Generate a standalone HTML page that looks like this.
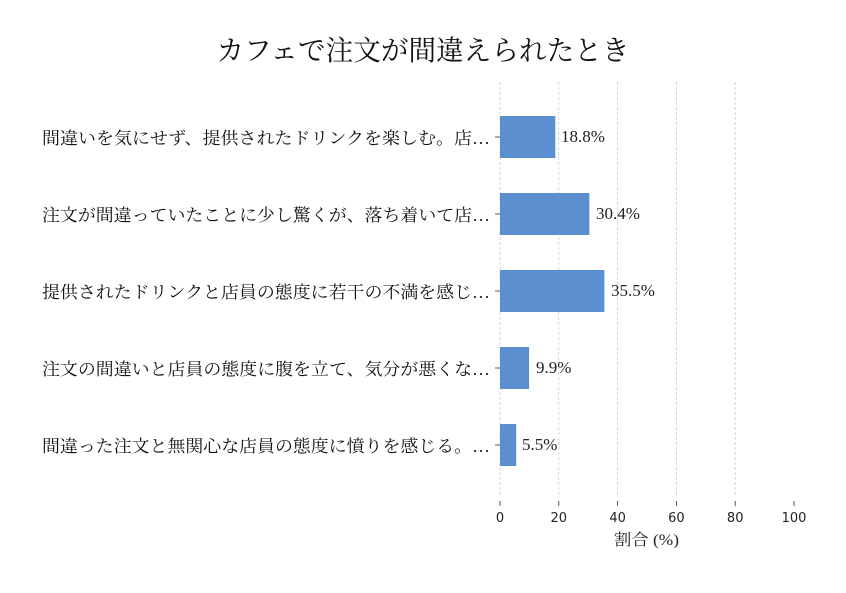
<!DOCTYPE html>
<html><head><meta charset="utf-8"><style>
body{margin:0;background:#fff;}
</style></head><body>
<svg width="846" height="588" xmlns="http://www.w3.org/2000/svg">
<rect width="846" height="588" fill="#fff"/>
<text x="423" y="60" text-anchor="middle" font-family="'Liberation Serif','Noto Serif CJK SC',serif" font-size="28" fill="#111" textLength="413" lengthAdjust="spacingAndGlyphs">カフェで注文が間違えられたとき</text>
<g stroke="#ccc" stroke-width="0.8" stroke-dasharray="3,2">
<line x1="500" y1="82" x2="500" y2="495"/>
<line x1="558.8" y1="82" x2="558.8" y2="495"/>
<line x1="617.6" y1="82" x2="617.6" y2="495"/>
<line x1="676.4" y1="82" x2="676.4" y2="495"/>
<line x1="735.2" y1="82" x2="735.2" y2="495"/>
</g>
<g fill="#5b8fd0">
<rect x="500" y="116" width="55.3" height="42"/>
<rect x="500" y="193" width="89.4" height="42"/>
<rect x="500" y="270" width="104.4" height="42"/>
<rect x="500" y="347" width="29.1" height="42"/>
<rect x="500" y="424" width="16.2" height="42"/>
</g>
<g font-family="'Liberation Serif','Noto Serif CJK SC',serif" font-size="17" fill="#222">
<text x="561" y="142">18.8%</text>
<text x="596" y="219">30.4%</text>
<text x="611" y="296">35.5%</text>
<text x="536" y="373">9.9%</text>
<text x="522" y="450">5.5%</text>
</g>
<g font-family="'Liberation Serif','Noto Serif CJK JP',serif" font-size="17" fill="#111">
<text x="42" y="144" textLength="448" lengthAdjust="spacingAndGlyphs">間違いを気にせず、提供されたドリンクを楽しむ。店…</text>
<text x="42" y="221" textLength="448" lengthAdjust="spacingAndGlyphs">注文が間違っていたことに少し驚くが、落ち着いて店…</text>
<text x="42" y="298" textLength="448" lengthAdjust="spacingAndGlyphs">提供されたドリンクと店員の態度に若干の不満を感じ…</text>
<text x="42" y="375" textLength="448" lengthAdjust="spacingAndGlyphs">注文の間違いと店員の態度に腹を立て、気分が悪くな…</text>
<text x="42" y="452" textLength="448" lengthAdjust="spacingAndGlyphs">間違った注文と無関心な店員の態度に憤りを感じる。…</text>
</g>
<g stroke="#333" stroke-width="0.8">
<line x1="495" y1="137" x2="500" y2="137"/>
<line x1="495" y1="214" x2="500" y2="214"/>
<line x1="495" y1="291" x2="500" y2="291"/>
<line x1="495" y1="368" x2="500" y2="368"/>
<line x1="495" y1="445" x2="500" y2="445"/>
<line x1="500" y1="501" x2="500" y2="506"/>
<line x1="558.8" y1="501" x2="558.8" y2="506"/>
<line x1="617.6" y1="501" x2="617.6" y2="506"/>
<line x1="676.4" y1="501" x2="676.4" y2="506"/>
<line x1="735.2" y1="501" x2="735.2" y2="506"/>
<line x1="794" y1="501" x2="794" y2="506"/>
</g>
<g font-family="'DejaVu Sans',sans-serif" font-size="13" fill="#222" text-anchor="middle">
<text x="500" y="522">0</text>
<text x="558.8" y="522">20</text>
<text x="617.6" y="522">40</text>
<text x="676.4" y="522">60</text>
<text x="735.2" y="522">80</text>
<text x="794" y="522">100</text>
</g>
<text x="614" y="545" font-family="'Liberation Serif','Noto Serif CJK JP',serif" font-size="16" fill="#222" textLength="65" lengthAdjust="spacingAndGlyphs">割合 (%)</text>
</svg>
</body></html>
